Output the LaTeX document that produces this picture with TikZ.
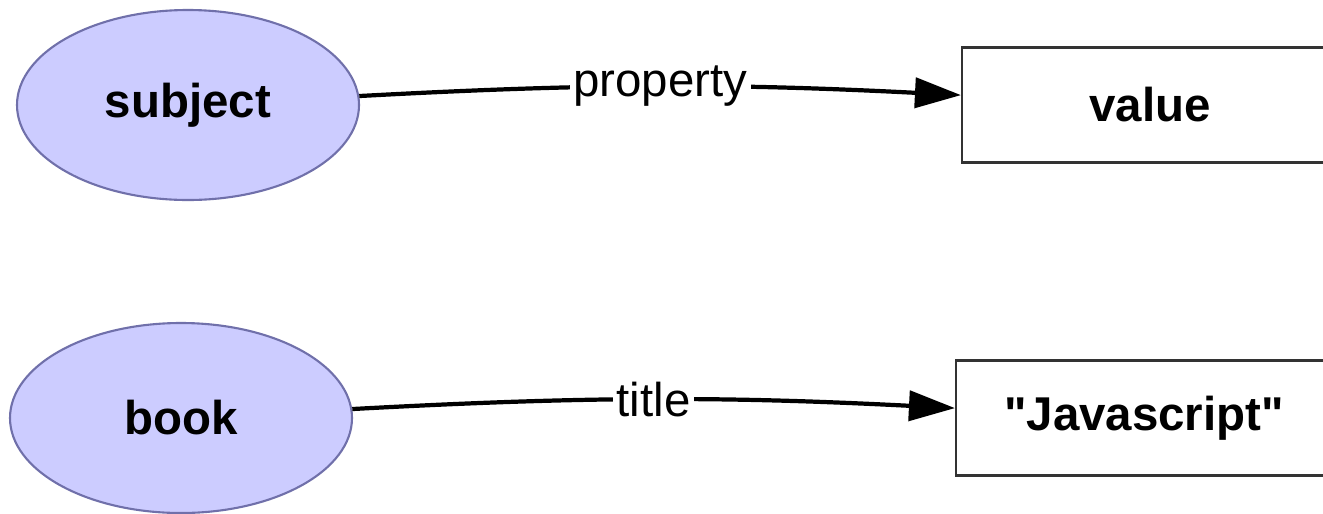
\documentclass[tikz,border=0pt]{standalone}
\usepackage{fontspec}
\setmainfont{Liberation Sans}
\newfontfamily\litfont{Liberation Sans}
\usetikzlibrary{shapes.geometric,arrows.meta}

\definecolor{resfill}{RGB}{204,204,255}
\definecolor{resline}{RGB}{112,112,170}

\begin{document}
\begin{tikzpicture}[
  font=\fontsize{13.5}{16}\selectfont,
  res/.style={draw=resline, fill=resfill, ellipse, line width=0.6pt,
    minimum width=3.42cm, minimum height=1.9cm, inner sep=0pt, font=\fontsize{13.5}{16}\selectfont\bfseries},
  lit/.style={draw=black!80, rectangle, line width=0.6pt,
    minimum width=3.76cm, minimum height=1.15cm, inner sep=0pt, font=\litfont\fontsize{13.5}{16}\selectfont\bfseries},
  prop/.style={fill=white, inner sep=1pt}]
\useasboundingbox (0,0) rectangle (13.23,5.13);
\node[res] (1) at (1.88,4.08) {subject};
\node[lit] (2) at (11.50,4.08) {value};
\node[res] (3) at (1.81,0.95) {book};
\node[lit] (4) at (11.44,0.95) {"Javascript"};
\path[draw,line width=1.2pt,-{Triangle[length=0.46cm,width=0.3cm]}] (1) to[bend left=3] node[prop] {property} (2);
\path[draw,line width=1.2pt,-{Triangle[length=0.46cm,width=0.3cm]}] (3) to[bend left=3] node[prop] {title} (4);
\end{tikzpicture}
\end{document}
